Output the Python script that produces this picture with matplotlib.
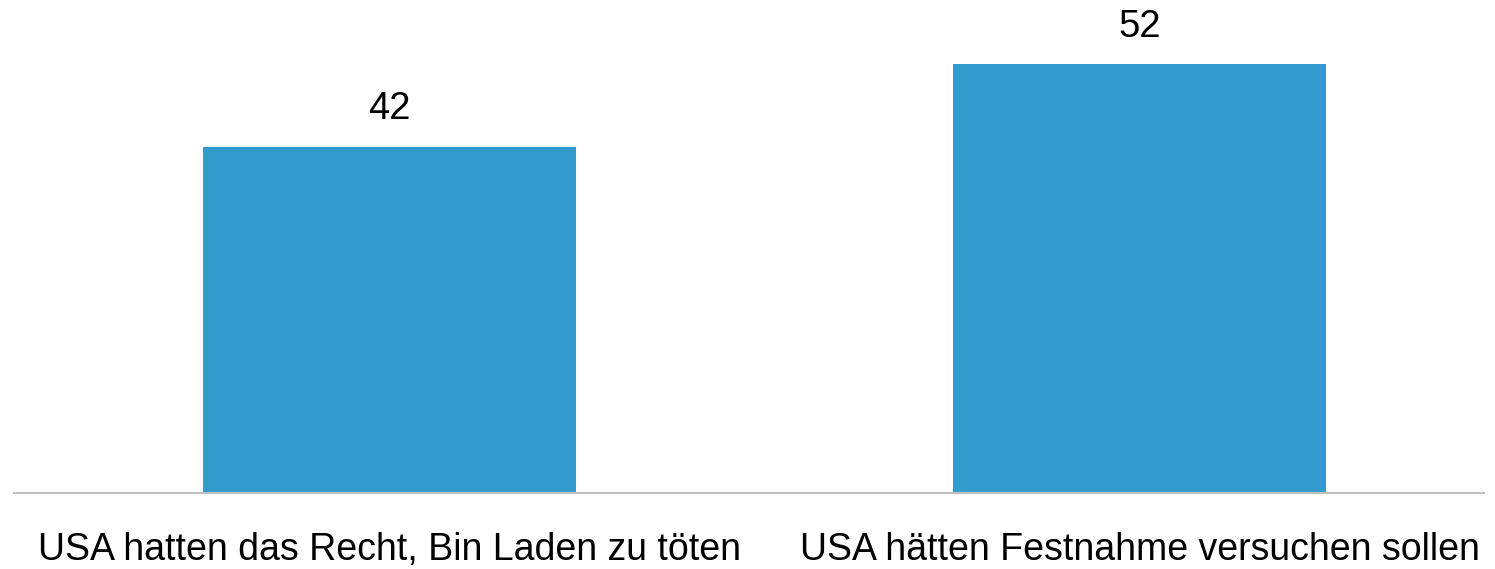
import matplotlib.pyplot as plt
import numpy as np

# Daten
kategorien = ['USA hatten das Recht, Bin Laden zu töten',
              'USA hätten Festnahme versuchen sollen']
werte = [42, 52]

plt.rcParams['font.family'] = ['Liberation Sans', 'DejaVu Sans']

fig = plt.figure(figsize=(14.95, 5.69), dpi=100)
ax = fig.add_axes([14 / 1495, 1 - 493 / 569, 1470 / 1495, 493 / 569])

x = np.arange(len(kategorien))
balken = ax.bar(x, werte, width=0.497, color='#339bcb', zorder=2)

# Werte über den Balken
for b, w in zip(balken, werte):
    ax.annotate(str(w), (b.get_x() + b.get_width() / 2, b.get_height()),
                xytext=(0, 14), textcoords='offset points',
                ha='center', va='bottom', fontsize=27.5, color='black')

ax.set_xlim(-0.5007, 1.4593)
ax.set_ylim(0, 59.8)

ax.set_xticks(x)
ax.set_xticklabels(kategorien, fontsize=27)
ax.tick_params(axis='x', length=0, pad=28)
ax.set_yticks([])

for s in ['left', 'right', 'top']:
    ax.spines[s].set_visible(False)
ax.spines['bottom'].set_color('#bfbfbf')
ax.spines['bottom'].set_linewidth(1.5)

fig.savefig('out.png', dpi=100)
